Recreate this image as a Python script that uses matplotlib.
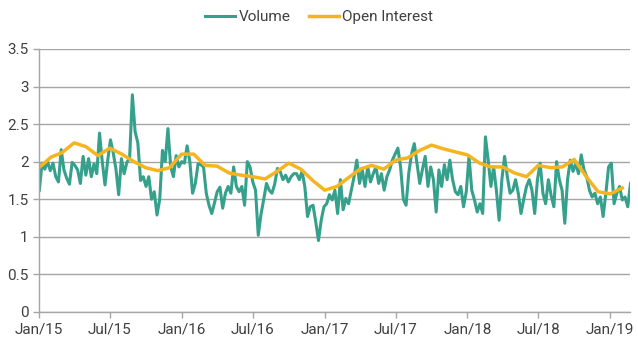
import pandas as pd
import numpy as np
import matplotlib
matplotlib.use('Agg')
import matplotlib.pyplot as plt
import matplotlib.dates as mdates

# weekly volume, starting first week of Jan 2015
vol_2015 = [1.62, 1.98, 1.90, 2.00, 1.88, 1.98, 1.80, 1.73, 2.16, 1.89,
            1.78, 1.70, 1.99, 1.95, 1.89, 1.71, 2.07, 1.82, 2.04, 1.80,
            1.97, 1.84, 2.38, 2.00, 1.69, 2.02, 2.29, 2.12, 1.90, 1.56,
            2.04, 1.84, 1.99, 2.05, 2.89, 2.40, 2.25, 1.75, 1.80, 1.67,
            1.80, 1.50, 1.60, 1.29, 1.50, 2.15, 2.00, 2.44, 1.93, 1.80,
            2.08, 1.93, 2.00]
vol_2016 = [1.98, 2.21, 2.00, 1.58, 1.71, 1.97, 1.96, 1.93, 1.58, 1.42,
            1.31, 1.45, 1.60, 1.66, 1.38, 1.58, 1.67, 1.58, 1.93, 1.67,
            1.60, 1.67, 1.42, 2.00, 1.93, 1.73, 1.62, 1.02, 1.30, 1.50,
            1.71, 1.62, 1.58, 1.70, 1.91, 1.87, 1.76, 1.82, 1.73, 1.80,
            1.84, 1.84, 1.76, 1.87, 1.67, 1.27, 1.40, 1.42, 1.20, 0.95,
            1.22, 1.40]
vol_2017 = [1.44, 1.56, 1.49, 1.62, 1.31, 1.76, 1.36, 1.51, 1.44, 1.62,
            1.80, 2.02, 1.71, 1.89, 1.67, 1.93, 1.73, 1.84, 1.93, 1.71,
            1.84, 1.62, 1.80, 1.89, 2.02, 2.10, 2.18, 1.93, 1.50, 1.42,
            1.85, 2.10, 2.24, 1.98, 1.71, 1.90, 2.07, 1.67, 1.93, 1.76,
            1.33, 1.89, 1.67, 1.96, 1.76, 2.02, 1.76, 1.60, 1.56, 1.67,
            1.40, 1.60]
vol_2018 = [2.07, 1.62, 1.49, 1.33, 1.44, 1.31, 2.33, 2.02, 1.67, 1.93,
            1.62, 1.22, 1.76, 2.07, 1.80, 1.58, 1.62, 1.76, 1.58, 1.31,
            1.50, 1.67, 1.76, 1.62, 1.31, 1.76, 1.98, 1.58, 1.44, 1.76,
            1.55, 1.40, 2.00, 1.76, 1.62, 1.18, 1.76, 2.02, 1.87, 1.98,
            1.84, 2.09, 1.89, 1.80, 1.62, 1.53, 1.58, 1.44, 1.53, 1.27,
            1.58, 1.93]
vol_2019 = [1.98, 1.44, 1.58, 1.67, 1.49, 1.53, 1.40, 1.71]

# monthly open interest, Jan 2015 - Feb 2019
oi_values = [1.92, 2.06, 2.12, 2.25, 2.20, 2.08, 2.18, 2.10, 2.00, 1.92,
             1.88, 1.92, 2.10, 2.10, 1.95, 1.94, 1.85, 1.82, 1.80, 1.77,
             1.87, 1.98, 1.90, 1.75, 1.62, 1.67, 1.78, 1.90, 1.95, 1.90,
             2.02, 2.05, 2.15, 2.22, 2.17, 2.13, 2.09, 1.98, 1.93, 1.93,
             1.85, 1.80, 1.95, 1.92, 1.93, 2.03, 1.80, 1.60, 1.57, 1.65]

y_ticks = [0, 0.5, 1, 1.5, 2, 2.5, 3, 3.5]
y_labels = ['0', '0.5', '1', '1.5', '2', '2.5', '3', '3.5']

vol_values = vol_2015 + vol_2016 + vol_2017 + vol_2018 + vol_2019
vol_dates = pd.date_range('2015-01-02', periods=len(vol_values), freq='7D')
oi_dates = pd.date_range('2015-01-01', periods=len(oi_values), freq='MS')

plt.rcParams['font.family'] = ['Roboto', 'DejaVu Sans']

fig = plt.figure(figsize=(6.38, 3.47), dpi=100)
ax = fig.add_axes([0.061, 0.101, 0.926, 0.758])

ax.plot(vol_dates, vol_values, color='#35a08b', linewidth=2.2, label='Volume')
ax.plot(oi_dates, oi_values, color='#f6b520', linewidth=2.5, label='Open Interest')

ax.set_ylim(0, 3.5)
ax.set_yticks(y_ticks)
ax.set_yticklabels(y_labels)
ax.set_xlim(pd.Timestamp('2015-01-01'), pd.Timestamp('2019-02-20'))
ax.xaxis.set_major_locator(mdates.MonthLocator(bymonth=[1, 7]))
ax.xaxis.set_major_formatter(mdates.DateFormatter('%b/%y'))

ax.grid(axis='y', color='#a9a4a4', linewidth=1.0)
ax.set_axisbelow(True)
for side in ['top', 'right']:
    ax.spines[side].set_visible(False)
for side in ['left', 'bottom']:
    ax.spines[side].set_color('#a9a4a4')
    ax.spines[side].set_linewidth(1.0)
ax.tick_params(colors='#a9a4a4', labelcolor='#404040', labelsize=11,
               length=4, width=1)

fig.legend(loc='upper center', bbox_to_anchor=(0.5, 1.01), ncol=2,
           frameon=False, fontsize=11, handlelength=2.0, handletextpad=0.2,
           columnspacing=1.2, labelcolor='#404040')

fig.savefig('out.png', dpi=100)
